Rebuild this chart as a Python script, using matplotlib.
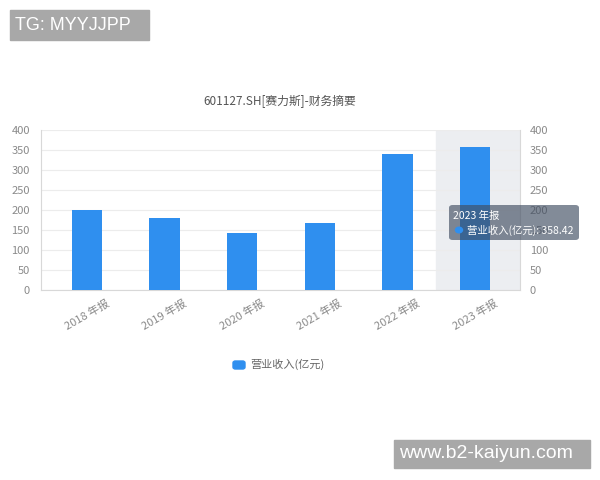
import matplotlib
matplotlib.use("Agg")
import matplotlib.pyplot as plt
from matplotlib.patches import FancyBboxPatch

plt.rcParams['font.family'] = ['Noto Sans CJK SC', 'DejaVu Sans']

categories = ["2018 年报", "2019 年报", "2020 年报", "2021 年报", "2022 年报", "2023 年报"]
revenue = [200.5, 179.5, 143.5, 167.2, 340.8, 358.42]
yticks = [0, 50, 100, 150, 200, 250, 300, 350, 400]
title = "601127.SH[赛力斯]-财务摘要"
series_name = "营业收入(亿元)"

W, H = 600, 480
fig = plt.figure(figsize=(6, 4.8), dpi=100)
ax = fig.add_axes([41 / W, 1 - 290 / H, (520 - 41) / W, 160 / H])

x = list(range(len(categories)))
ax.axvspan(4.5, 5.58, color='#eceef1', zorder=0)
ax.bar(x, revenue, width=0.39, color='#2f8fef', zorder=3)
ax.set_xlim(-0.593, 5.58)
ax.set_ylim(0, 400)
ax.set_yticks(yticks)
ax.grid(axis='y', color='#ececec', linewidth=0.8, zorder=1)
ax.set_axisbelow(True)
for s in ['left', 'bottom', 'right']:
    ax.spines[s].set_color('#d8d8d8')
    ax.spines[s].set_linewidth(0.8)
ax.spines['top'].set_visible(False)
ax.tick_params(axis='both', length=0, labelsize=8, labelcolor='#8a8a8a')
ax.tick_params(axis='y', pad=8)
ax.set_xticks(x)
ax.set_xticklabels(categories, rotation=30, ha='center', va='top')
ax.tick_params(axis='x', pad=6)

ax2 = ax.twinx()
ax2.set_ylim(0, 400)
ax2.set_yticks(yticks)
for s in ax2.spines.values():
    s.set_visible(False)
ax2.tick_params(axis='y', length=0, labelsize=8, labelcolor='#8a8a8a', pad=7)

fig.text(280 / W, 1 - 101 / H, title, ha='center', va='center', fontsize=8.5, color='#555555')

# legend
fig.patches.append(FancyBboxPatch((233 / W, 1 - 369 / H), 12 / W, 8 / H,
                                  boxstyle='round,pad=0,rounding_size=0.004',
                                  transform=fig.transFigure, color='#2f8fef'))
fig.text(250 / W, 1 - 364 / H, series_name, ha='left', va='center', fontsize=8, color='#666666')

# tooltip
fig.patches.append(FancyBboxPatch((449 / W, 1 - 240 / H), 130 / W, 35 / H,
                                  boxstyle='round,pad=0,rounding_size=0.006',
                                  transform=fig.transFigure, facecolor=(0.25, 0.3, 0.38, 0.65),
                                  edgecolor='none', zorder=10))
fig.text(453 / W, 1 - 216 / H, "2023 年报", ha='left', va='center', fontsize=7.5, color='white', zorder=11)
fig.patches.append(plt.Circle((459 / W, 1 - 230 / H), 3.5 / W, transform=fig.transFigure,
                              color='#2f8fef', zorder=11))
fig.text(467 / W, 1 - 230 / H, f"{series_name}: {revenue[-1]}", ha='left', va='center',
         fontsize=7.5, color='white', zorder=11)

# watermarks
fig.patches.append(plt.Rectangle((10 / W, 1 - 40 / H), 139 / W, 30 / H,
                                 transform=fig.transFigure, color='#a8a8a8', zorder=12))
fig.text(15 / W, 1 - 25 / H, "TG: MYYJJPP", ha='left', va='center', fontsize=13,
         color='white', family='Liberation Sans', zorder=13)
fig.patches.append(plt.Rectangle((394 / W, 1 - 468 / H), 196 / W, 28 / H,
                                 transform=fig.transFigure, color='#a8a8a8', zorder=12))
fig.text(399 / W, 1 - 454 / H, "www.b2-kaiyun.com", ha='left', va='center', fontsize=14,
         color='white', family='Liberation Sans', zorder=13)

fig.savefig("out.png", dpi=100, facecolor='white')
